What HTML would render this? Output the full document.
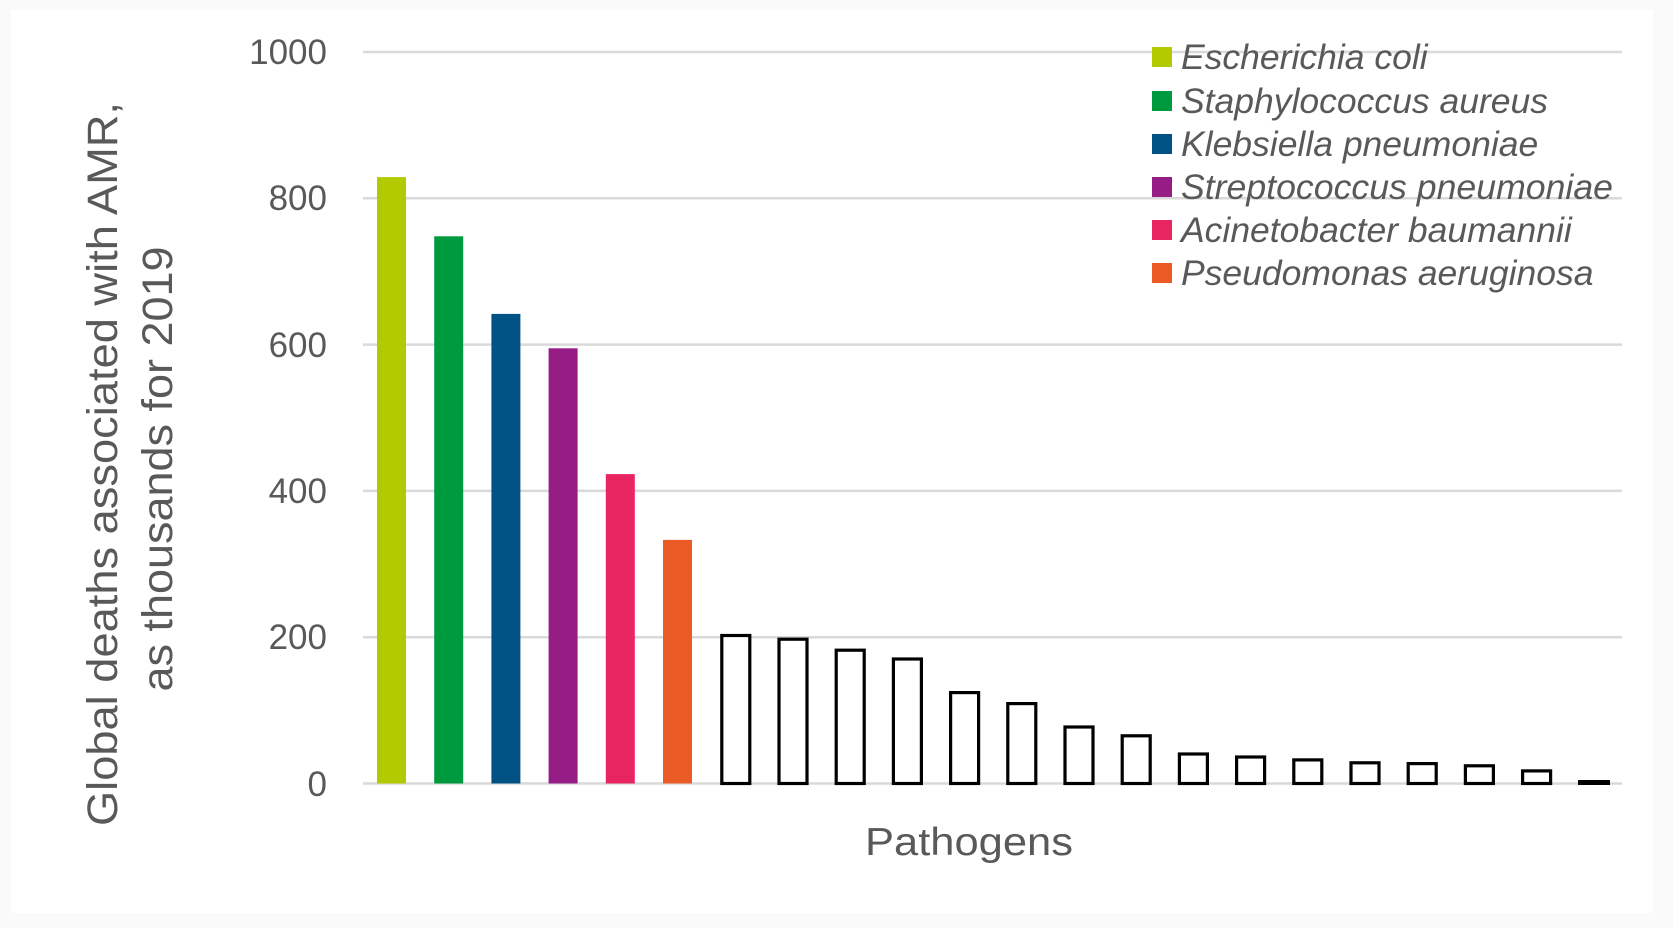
<!DOCTYPE html>
<html><head><meta charset="utf-8"><style>
html,body{margin:0;padding:0;background:#fff;}
svg{display:block;}
text{font-family:"Liberation Sans",sans-serif;fill:#595959;}
</style></head><body>
<svg width="1673" height="928" viewBox="0 0 1673 928" xmlns="http://www.w3.org/2000/svg">
<rect x="0" y="0" width="1673" height="928" fill="#fafafa"/>
<rect x="11" y="10" width="1642" height="903" fill="#ffffff"/>
<g stroke="#d9d9d9" stroke-width="2.5">
<line x1="363" x2="1622" y1="52" y2="52"/>
<line x1="363" x2="1622" y1="198.3" y2="198.3"/>
<line x1="363" x2="1622" y1="344.6" y2="344.6"/>
<line x1="363" x2="1622" y1="490.9" y2="490.9"/>
<line x1="363" x2="1622" y1="637.2" y2="637.2"/>
<line x1="363" x2="1622" y1="783.5" y2="783.5"/>
</g>
<g font-size="35" text-anchor="end">
<text x="327" y="64">1000</text>
<text x="327" y="210">800</text>
<text x="327" y="357">600</text>
<text x="327" y="503">400</text>
<text x="327" y="649">200</text>
<text x="327" y="796">0</text>
</g>
<text x="969" y="855" font-size="39" text-anchor="middle" textLength="208" lengthAdjust="spacingAndGlyphs">Pathogens</text>
<text transform="translate(117,464) rotate(-90)" font-size="43" text-anchor="middle" textLength="724" lengthAdjust="spacingAndGlyphs">Global deaths associated with AMR,</text>
<text transform="translate(172,469) rotate(-90)" font-size="43" text-anchor="middle" textLength="445" lengthAdjust="spacingAndGlyphs">as thousands for 2019</text>
<g font-size="35.5" font-style="italic">
<rect x="1152" y="47" width="20" height="20" fill="#b3c900"/><text x="1181" y="69">Escherichia coli</text>
<rect x="1152" y="91" width="20" height="20" fill="#009a3e"/><text x="1181" y="113">Staphylococcus aureus</text>
<rect x="1152" y="134" width="20" height="20" fill="#005285"/><text x="1181" y="156">Klebsiella pneumoniae</text>
<rect x="1152" y="177" width="20" height="20" fill="#951d85"/><text x="1181" y="199" textLength="432" lengthAdjust="spacingAndGlyphs">Streptococcus pneumoniae</text>
<rect x="1152" y="220" width="20" height="20" fill="#e82561"/><text x="1181" y="242">Acinetobacter baumannii</text>
<rect x="1152" y="263" width="20" height="20" fill="#ea5b25"/><text x="1181" y="285">Pseudomonas aeruginosa</text>
</g>
<g>
<rect x="377" y="177.1" width="29" height="606.4" fill="#b3c900"/>
<rect x="434.2" y="236.3" width="29" height="547.2" fill="#009a3e"/>
<rect x="491.4" y="313.9" width="29" height="469.6" fill="#005285"/>
<rect x="548.6" y="348.3" width="29" height="435.2" fill="#951d85"/>
<rect x="605.8" y="474.1" width="29" height="309.4" fill="#e82561"/>
<rect x="663" y="539.9" width="29" height="243.6" fill="#ea5b25"/>
</g>
<g fill="#fff" stroke="#000" stroke-width="3.2">
<rect x="721.8" y="635.5" width="28" height="148"/>
<rect x="779" y="639.2" width="28" height="144.3"/>
<rect x="836.2" y="650.2" width="28" height="133.3"/>
<rect x="893.4" y="659" width="28" height="124.5"/>
<rect x="950.6" y="692.6" width="28" height="90.9"/>
<rect x="1007.8" y="703.6" width="28" height="79.9"/>
<rect x="1065" y="727" width="28" height="56.5"/>
<rect x="1122.2" y="735.8" width="28" height="47.7"/>
<rect x="1179.4" y="754" width="28" height="29.5"/>
<rect x="1236.6" y="757" width="28" height="26.5"/>
<rect x="1293.8" y="759.9" width="28" height="23.6"/>
<rect x="1351" y="762.8" width="28" height="20.7"/>
<rect x="1408.2" y="763.6" width="28" height="19.9"/>
<rect x="1465.4" y="765.8" width="28" height="17.7"/>
<rect x="1522.6" y="770.9" width="28" height="12.6"/>
</g>
<rect x="1578" y="780" width="32" height="5" fill="#000"/>
</svg>
</body></html>
